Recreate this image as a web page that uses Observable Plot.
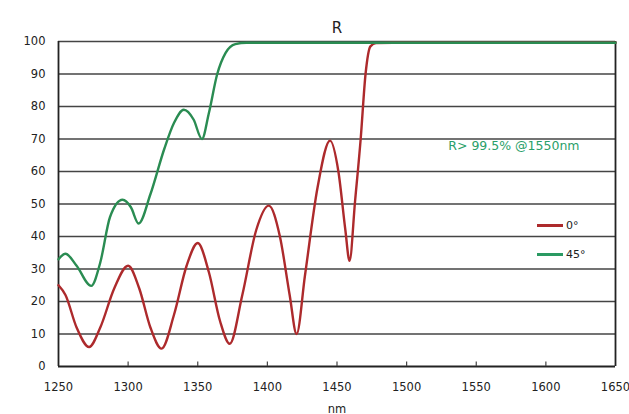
<!DOCTYPE html>
<html><head><meta charset="utf-8">
<script src="https://cdn.jsdelivr.net/npm/d3@7"></script>
<script src="https://cdn.jsdelivr.net/npm/@observablehq/plot@0.6"></script>
<style>
body{margin:0;background:#fff;}
#wrap{position:relative;width:629px;height:414px;font-family:"DejaVu Sans",sans-serif;}
#legend{position:absolute;left:537px;top:211px;font-size:11px;color:#222;}
#legend div{display:flex;align-items:center;height:29px;}
#legend span.sw{display:inline-block;width:26px;height:3px;margin-right:3px;}
</style>
</head><body>
<div id="wrap"><div id="chart"></div>
<div id="legend">
<div><span class="sw" style="background:#ad2a2c"></span>0°</div>
<div><span class="sw" style="background:#2a9a62"></span>45°</div>
</div></div>
<script>
const wl0 = [1250,1255,1263,1272,1280,1290,1300,1308,1316,1324,1333,1342,1350,1358,1366,1373,1382,1392,1401,1409,1416,1421,1427,1436,1445,1451,1456,1459,1463,1467,1470.5,1474,1478,1490,1650];
const r0  = [25,22,12,6,12,24,31,24,12,5.5,16,31,38,29,14,7,22,42,49.5,40,22,10,28,55,69.5,60,42,32.5,51,70,90,98.5,99.5,99.6,99.6];
const wl45 = [1250,1255,1263,1273.5,1280,1287,1296,1302,1307.5,1316,1326,1333,1340,1347,1353,1358,1364,1370,1377,1385,1650];
const r45  = [33,34.7,31,24.8,32,46,51.3,49,44,53,67,75,79,76,70,78,90,96.5,99.2,99.6,99.6];
const xTicks = [1250,1300,1350,1400,1450,1500,1550,1600,1650];
const yTicks = [0,10,20,30,40,50,60,70,80,90,100];
const d0 = wl0.map((w,i)=>({w, r:r0[i]}));
const d45 = wl45.map((w,i)=>({w, r:r45[i]}));
const plot = Plot.plot({
  width:629, height:414,
  marginTop:41, marginBottom:48, marginLeft:58, marginRight:14,
  style:{fontFamily:"DejaVu Sans, sans-serif", fontSize:"11.5px", color:"#222"},
  x:{domain:[1250,1650], ticks:xTicks, tickSize:0, tickPadding:16, label:"nm", labelAnchor:"center", labelArrow:"none", labelOffset:46, tickFormat:d=>String(d)},
  y:{domain:[0,100], ticks:yTicks, tickSize:0, tickPadding:13, label:null},
  marks:[
    Plot.ruleY(yTicks.filter(d=>d>0), {stroke:"#444", strokeWidth:1.6}),
    Plot.ruleY([0], {stroke:"#222", strokeWidth:1.8}),
    Plot.ruleX([1250,1650], {stroke:"#222", strokeWidth:1.8}),
    Plot.ruleX(xTicks.slice(1,-1), {y1:0, y2:1.4, stroke:"#444", strokeWidth:1.2}),
    Plot.line(d0, {x:"w", y:"r", stroke:"#ad2a2c", strokeWidth:2.4, curve:"monotone-x"}),
    Plot.line(d45, {x:"w", y:"r", stroke:"#2a8c52", strokeWidth:2.4, curve:"monotone-x"}),
    Plot.text(["R"], {frameAnchor:"top", dy:-19, fontSize:15, fill:"#222"}),
    Plot.text(["R> 99.5% @1550nm"], {frameAnchor:"top-right", dx:-36, dy:100, fontSize:12.5, fill:"#2aa06a", textAnchor:"end"})
  ]
});
document.getElementById("chart").append(plot);
</script>
</body></html>
